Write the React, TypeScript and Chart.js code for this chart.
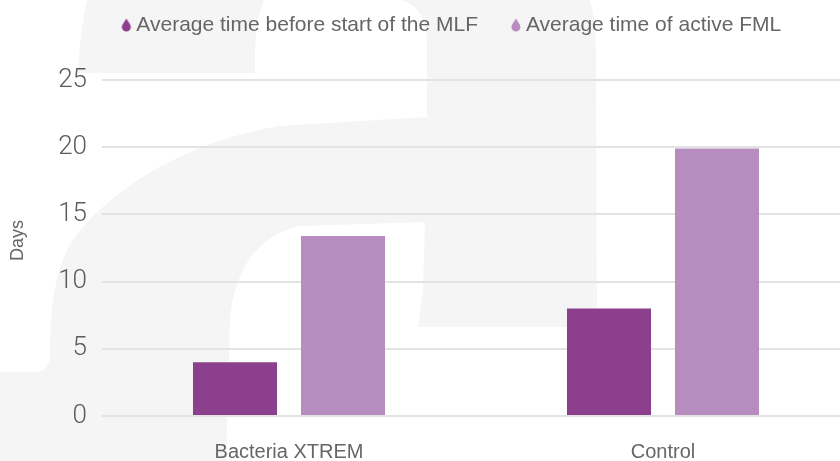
import { useEffect, useRef } from 'react';
import { Chart, registerables } from 'chart.js';

Chart.register(...registerables);

const categories = ['Bacteria XTREM', 'Control'];
const seriesLabels = ['Average time before start of the MLF', 'Average time of active FML'];
const beforeStartValues = [4, 8];
const activeValues = [13.4, 19.9];
const yTicks = [0, 5, 10, 15, 20, 25];
const seriesColors = ['#8c3f8c', '#b78cbe'];

function makeDrop(color: string): HTMLCanvasElement {
  const c = document.createElement('canvas');
  c.width = 24;
  c.height = 24;
  const g = c.getContext('2d')!;
  const cx = 13;
  g.fillStyle = color;
  g.beginPath();
  g.moveTo(cx, 5.5);
  g.bezierCurveTo(cx + 1.6, 8.5, cx + 4.5, 11.5, cx + 4.5, 14);
  g.arc(cx, 14, 4.5, 0, Math.PI);
  g.bezierCurveTo(cx - 4.5, 11.5, cx - 1.6, 8.5, cx, 5.5);
  g.closePath();
  g.fill();
  return c;
}

const watermark = {
  id: 'watermark',
  beforeDraw(chart: any) {
    const ctx = chart.ctx as CanvasRenderingContext2D;
    ctx.save();
    ctx.fillStyle = '#f5f5f5';
    // terminal of the letter
    ctx.beginPath();
    ctx.moveTo(87, 0);
    ctx.lineTo(264, 0);
    ctx.quadraticCurveTo(255, 20, 255, 60);
    ctx.lineTo(255, 73);
    ctx.lineTo(78, 73);
    ctx.quadraticCurveTo(80, 30, 87, 0);
    ctx.closePath();
    ctx.fill();
    // stem and bowl
    ctx.beginPath();
    ctx.moveTo(400, 0);
    ctx.lineTo(590, 0);
    ctx.quadraticCurveTo(596, 20, 596, 60);
    ctx.lineTo(597, 327);
    ctx.lineTo(418, 327);
    ctx.lineTo(423, 290);
    ctx.lineTo(425, 222);
    ctx.lineTo(300, 226);
    ctx.bezierCurveTo(260, 235, 235, 265, 230, 320);
    ctx.lineTo(226, 461);
    ctx.lineTo(0, 461);
    ctx.lineTo(0, 372);
    ctx.lineTo(35, 372);
    ctx.quadraticCurveTo(50, 372, 50, 355);
    ctx.bezierCurveTo(50, 290, 60, 250, 85, 225);
    ctx.bezierCurveTo(120, 185, 190, 140, 280, 126);
    ctx.lineTo(427, 117);
    ctx.lineTo(427, 40);
    ctx.quadraticCurveTo(425, 5, 400, 0);
    ctx.closePath();
    ctx.fill();
    ctx.restore();
  },
};

export default function App() {
  const ref = useRef<HTMLCanvasElement | null>(null);

  useEffect(() => {
    if (!ref.current) return;
    const drops = seriesColors.map(makeDrop);
    const chart = new Chart(ref.current, {
      type: 'bar',
      data: {
        labels: categories,
        datasets: [
          {
            label: seriesLabels[0],
            data: beforeStartValues,
            backgroundColor: seriesColors[0],
            categoryPercentage: 0.5775,
            barPercentage: 0.778,
          },
          {
            label: seriesLabels[1],
            data: activeValues,
            backgroundColor: seriesColors[1],
            categoryPercentage: 0.5775,
            barPercentage: 0.778,
          },
        ],
      },
      options: {
        responsive: false,
        animation: false,
        devicePixelRatio: 1,
        layout: { padding: { top: 7.2, left: 0, right: 0, bottom: 0 } },
        plugins: {
          legend: {
            position: 'top',
            align: 'center',
            labels: {
              usePointStyle: true,
              pointStyleWidth: 1,
              padding: 7.3,
              color: '#666',
              font: { family: 'Liberation Sans', size: 21 },
              generateLabels: (c: any) =>
                c.data.datasets.map((ds: any, i: number) => ({
                  text: i === 0 ? ds.label + '     ' : ds.label,
                  fillStyle: seriesColors[i],
                  strokeStyle: seriesColors[i],
                  lineWidth: 0,
                  pointStyle: drops[i],
                  hidden: false,
                  datasetIndex: i,
                  fontColor: '#666',
                })),
            },
          },
          title: {
            display: true,
            text: '',
            position: 'top',
            weight: 500,
            padding: 0,
            font: { size: 10, lineHeight: '34.5px' },
          } as any,
          tooltip: { enabled: false },
        },
        scales: {
          x: {
            grid: { display: false },
            border: { display: false },
            ticks: { color: '#666', font: { family: 'Liberation Sans', size: 20 }, padding: 16 },
            afterFit: (s: any) => {
              s.height = 45;
            },
          },
          y: {
            min: 0,
            max: 25,
            grid: { color: '#e3e3e3', lineWidth: 2, drawTicks: false },
            border: { display: false },
            ticks: {
              stepSize: 5,
              padding: 15,
              color: '#5c5c5c',
              font: { family: 'Roboto', size: 26, weight: '300' as any },
            },
            afterBuildTicks: (s: any) => {
              s.ticks = yTicks.map((v) => ({ value: v }));
            },
            title: {
              display: true,
              text: '   Days',
              color: '#666',
              font: { family: 'Liberation Sans', size: 18 },
              padding: { top: 7, bottom: 0 },
            },
            afterFit: (s: any) => {
              s.width = 102;
            },
          },
          y2: {
            position: 'right',
            display: true,
            grid: { display: false },
            border: { display: false },
            ticks: { display: false },
            afterFit: (s: any) => {
              s.width = 56;
            },
          },
        },
      } as any,
      plugins: [watermark],
    });
    return () => chart.destroy();
  }, []);

  return (
    <div
      style={{
        position: 'absolute',
        left: 0,
        top: 0,
        width: 840,
        height: 461,
        overflow: 'hidden',
        background: '#fff',
      }}
    >
      <canvas ref={ref} width={906} height={461} style={{ display: 'block' }} />
    </div>
  );
}
